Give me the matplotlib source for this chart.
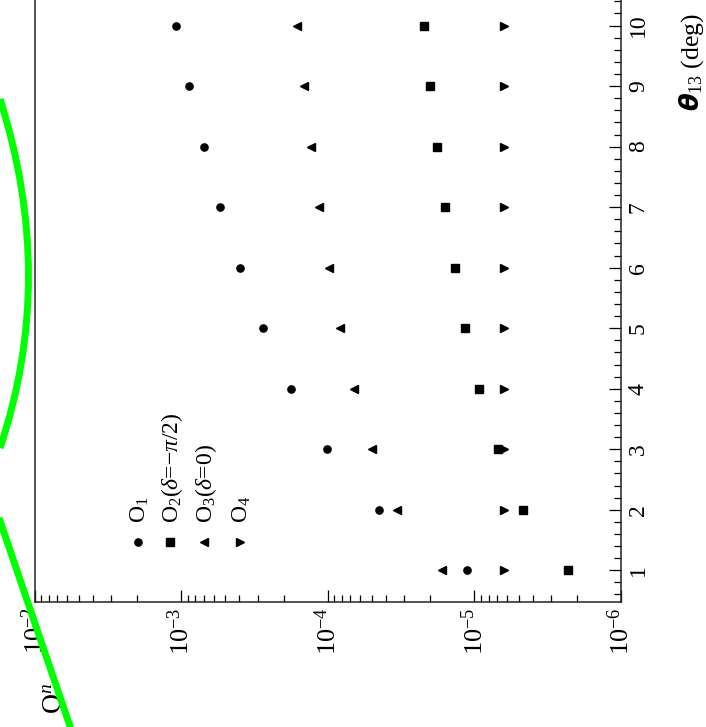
import matplotlib
matplotlib.use("Agg")
import matplotlib.pyplot as plt
from matplotlib.ticker import FixedLocator, FixedFormatter, MultipleLocator, LogLocator, NullFormatter
from matplotlib.path import Path
from matplotlib.patches import PathPatch
from matplotlib.lines import Line2D
from matplotlib.transforms import Affine2D

# ---------------- data ----------------
theta13 = [1, 2, 3, 4, 5, 6, 7, 8, 9, 10]
O1 = [1.12e-5, 4.49e-5, 1.01e-4, 1.79e-4, 2.77e-4, 3.98e-4, 5.40e-4, 7.01e-4, 8.79e-4, 1.08e-3]
O2 = [2.30e-6, 4.63e-6, 6.86e-6, 9.25e-6, 1.15e-5, 1.36e-5, 1.58e-5, 1.80e-5, 2.00e-5, 2.21e-5]
O3 = [1.66e-5, 3.35e-5, 4.99e-5, 6.65e-5, 8.20e-5, 9.84e-5, 1.14e-4, 1.30e-4, 1.45e-4, 1.61e-4]
O4 = [6.27e-6, 6.27e-6, 6.27e-6, 6.27e-6, 6.27e-6, 6.27e-6, 6.27e-6, 6.27e-6, 6.27e-6, 6.27e-6]
series_labels = [r"O$_1$", r"O$_2$($\delta$=$-\pi$/2)", r"O$_3$($\delta$=0)", r"O$_4$"]
decade_values = [1e-2, 1e-3, 1e-4, 1e-5, 1e-6]
decade_labels = [r"$10^{-2}$", r"$10^{-3}$", r"$10^{-4}$", r"$10^{-5}$", r"$10^{-6}$"]
theta_ticks = [1, 2, 3, 4, 5, 6, 7, 8, 9, 10]
theta_labels = ["1", "2", "3", "4", "5", "6", "7", "8", "9", "10"]

# ---------------- style ----------------
plt.rcParams['font.family'] = ['Liberation Serif', 'DejaVu Serif']
plt.rcParams['mathtext.fontset'] = 'custom'
plt.rcParams['mathtext.rm'] = 'Liberation Serif'
plt.rcParams['mathtext.it'] = 'Liberation Serif:italic'
plt.rcParams['mathtext.bf'] = 'Liberation Serif:bold'

W, H = 706, 727
fig = plt.figure(figsize=(W / 100, H / 100), dpi=100)
PX = Affine2D().scale(1 / W, -1 / H).translate(0, 1) + fig.transFigure

left_px, right_px, bottom_px = 34.5, 621.0, 601.7
top_px = -4.7
ax = fig.add_axes([left_px / W, (H - bottom_px) / H, (right_px - left_px) / W, (bottom_px - top_px) / H])

# chart is shown rotated: horizontal axis = O_n (log), vertical axis = theta13
ms = 5.2
ax.plot(O1, theta13, ls='none', marker='o', color='black', ms=ms, zorder=3)
ax.plot(O2, theta13, ls='none', marker='s', color='black', ms=ms, zorder=3)
ax.plot(O3, theta13, ls='none', marker='<', color='black', ms=ms + 0.6, zorder=3)
ax.plot(O4, theta13, ls='none', marker='>', color='black', ms=ms + 0.6, zorder=3)

ax.set_xscale('log')
ax.set_xlim(1e-2, 1e-6)
ax.set_ylim(0.481, 10.5)

ax.xaxis.set_major_locator(FixedLocator(decade_values))
ax.xaxis.set_major_formatter(FixedFormatter(decade_labels))
ax.xaxis.set_minor_locator(LogLocator(base=10, subs=[2, 3, 4, 5, 6, 7, 8, 9], numticks=20))
ax.xaxis.set_minor_formatter(NullFormatter())

ax.yaxis.tick_right()
ax.yaxis.set_major_locator(FixedLocator(theta_ticks))
ax.yaxis.set_major_formatter(FixedFormatter(theta_labels))
ax.yaxis.set_minor_locator(MultipleLocator(0.2))

ax.tick_params(axis='both', which='both', direction='in', colors='black', width=0.9)
ax.tick_params(axis='both', which='major', length=9)
ax.tick_params(axis='x', which='major', pad=4, labelsize=19)
ax.tick_params(axis='y', which='major', pad=5, labelsize=17)
ax.tick_params(axis='both', which='minor', length=4.7)
ax.tick_params(axis='x', top=False, bottom=True)
ax.tick_params(axis='y', left=False, right=True, labelleft=False, labelright=True)
for lab in ax.get_xticklabels():
    lab.set_rotation(90)
for lab in ax.get_yticklabels():
    lab.set_rotation(90)
    lab.set_verticalalignment('center')

for sp in ax.spines.values():
    sp.set_linewidth(1.1)
    sp.set_color('#222222')

# legend (rotated)
leg_x = [138, 170, 204, 240]
leg_markers = ['o', 's', '<', '>']
for x, m, lab in zip(leg_x, leg_markers, series_labels):
    fig.add_artist(Line2D([x], [541.7], transform=PX, marker=m, color='black',
                          ms=ms if m in 'os' else ms + 0.6, ls='none'))
    fig.text(x + 2, 523, lab, transform=PX, rotation=90, ha='center', va='bottom', fontsize=17)

# axis titles
fig.text(692, 111, r"$\boldsymbol{\theta}_{13}$ (deg)", transform=PX, rotation=90,
         ha='center', va='bottom', fontsize=18.5)
fig.text(56, 714, r"O$^{n}$", transform=PX, rotation=90, ha='center', va='bottom', fontsize=20)

# green overlay strokes (decoration on top of the chart)
arc = Path([(0, 99), (57, 278), (0, 448)], [Path.MOVETO, Path.CURVE3, Path.CURVE3])
fig.add_artist(PathPatch(arc, transform=PX, fill=False, edgecolor='#00ff00', lw=5, zorder=10))
fig.add_artist(Line2D([-3, 74], [512, 738], transform=PX, color='#00ff00', lw=5, zorder=10,
                      solid_capstyle='butt'))

fig.savefig("out.png", dpi=100)
